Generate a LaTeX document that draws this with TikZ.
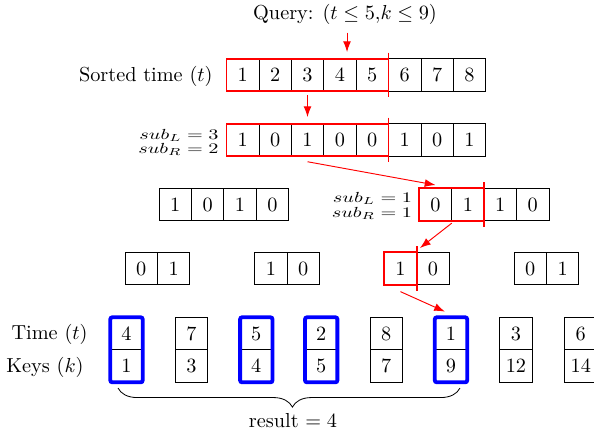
\documentclass[tikz,border=0pt]{standalone}
\usepackage{graphicx}
\usetikzlibrary{arrows.meta,decorations.pathreplacing}

\tikzset{
  cell/.style={draw, minimum width=0.5617cm, minimum height=0.5634cm,
               inner sep=0pt, outer sep=0pt, line width=0.38pt},
  redsel/.style={draw=red, line width=0.95pt},
  hitbox/.style={draw=blue, line width=1.9pt, rounded corners=1pt},
  qarrow/.style={red, line width=0.47pt, -{Latex[length=5.3pt,width=3.9pt]}},
  rowlabel/.style={anchor=base east, inner sep=0pt},
  sublabel/.style={anchor=base east, inner sep=0pt},
}
\newcommand{\squash}[1]{\scalebox{1}[0.72]{#1}}

\begin{document}
\begin{tikzpicture}[x=0.017335cm, y=-0.017335cm]
\useasboundingbox (0,0) rectangle (594,434);

% query
\node[anchor=base, inner sep=0pt] (query) at (345,19.5) {Query: $(t \leq 5{,}k \leq 9)$};

% level 0: sorted time
\node[rowlabel] (sortlab) at (213,81) {Sorted time $(t)$};
\foreach \v [count=\i] in {1,...,8}
  \node[cell] (a\i) at ({242.7+32.4*(\i-1)},75) {\v};
\draw[redsel] (a1.north west) rectangle (a5.south east);
\draw[redsel] ([yshift=3pt]a5.north east) -- ([yshift=-3pt]a5.south east);

% level 1: bit vector
\foreach \v [count=\i] in {1,0,1,0,0,1,0,1}
  \node[cell] (b\i) at ({242.7+32.4*(\i-1)},140) {\v};
\draw[redsel] (b1.north west) rectangle (b5.south east);
\draw[redsel] ([yshift=3pt]b5.north east) -- ([yshift=-3pt]b5.south east);
\node[sublabel] (sl1) at (219,139) {\squash{$sub_L = 3$}};
\node[sublabel] (sr1) at (219,153) {\squash{$sub_R = 2$}};

% level 2
\foreach \v [count=\i] in {1,0,1,0}
  \node[cell] (c\i) at ({175.2+32.4*(\i-1)},204.5) {\v};
\foreach \v [count=\i] in {0,1,1,0}
  \node[cell] (e\i) at ({435.5+32.4*(\i-1)},204.5) {\v};
\draw[redsel] (e1.north west) rectangle (e2.south east);
\draw[redsel] ([yshift=3pt]e2.north east) -- ([yshift=-3pt]e2.south east);
\node[sublabel] (sl2) at (412.5,202) {\squash{$sub_L = 1$}};
\node[sublabel] (sr2) at (412.5,217) {\squash{$sub_R = 1$}};

% level 3
\foreach \lx/\p/\q [count=\j] in {125/0/1, 254.7/1/0, 384.3/1/0, 514/0/1} {
  \node[cell] (f\j a) at (\lx+16.2,268.5) {\p};
  \node[cell] (f\j b) at (\lx+48.6,268.5) {\q};
}
\draw[redsel] (f3a.north west) rectangle (f3a.south east);
\draw[redsel] ([yshift=3pt]f3a.north east) -- ([yshift=-3pt]f3a.south east);

% leaves: (time, key) pairs
\node[rowlabel] (tlab) at (88,339.6) {Time $(t)$};
\node[rowlabel] (klab) at (84,372.2) {Keys $(k)$};
\foreach \t/\k [count=\j] in {4/1,7/3,5/4,2/5,8/7,1/9,3/12,6/14} {
  \node[cell] (t\j) at ({126.5+64.9*(\j-1)},333.55) {\t};
  \node[cell] (k\j) at ({126.5+64.9*(\j-1)},366.05) {\k};
}
\foreach \j in {1,3,4,6}
  \draw[hitbox] (t\j.north west) rectangle (k\j.south east);

% query path
\coordinate (qtip) at ([xshift=1pt]query.south |- a1.north);
\draw[qarrow] ([xshift=1pt,yshift=-3.8pt]query.south) -- ([yshift=3.3pt]qtip);
\draw[qarrow] ([yshift=-2pt]a3.south) -- ([yshift=3.3pt]b3.north);
\draw[qarrow] ([yshift=-2.7pt]b3.south) -- ([yshift=1.6pt]e1.north);
\draw[qarrow] ([yshift=-1.2pt]e1.south east) -- ([xshift=1.6pt,yshift=2.1pt]f3a.north east);
\draw[qarrow] ([yshift=-3.4pt]f3a.south) -- ([xshift=-3pt,yshift=2.8pt]t6.north);

% result brace
\coordinate (brR) at (460,388);
\coordinate (brL) at (118,388);
\draw[decorate, decoration={brace, amplitude=9.4pt, aspect=0.49}] (brR) -- (brL);
\node[anchor=base, inner sep=0pt] (result) at (293,427) {result $= 4$};
\end{tikzpicture}
\end{document}
